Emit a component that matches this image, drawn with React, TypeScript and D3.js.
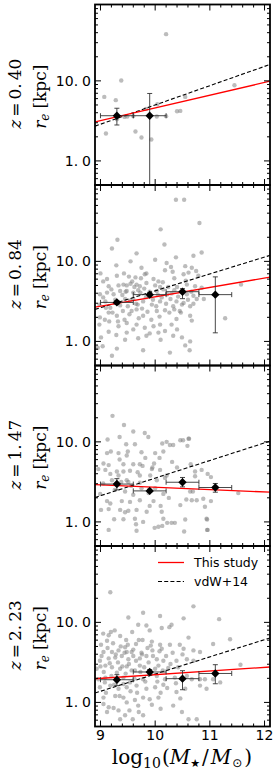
import React from "react";
import * as d3 from "d3";

const W = 279;
const H = 775;
const PLOT_LEFT = 95;
const PLOT_RIGHT = 270;
const PANEL_TOPS = [4.5, 185, 365.5, 546];
const PANEL_H = 180.5;
const X_DOMAIN: [number, number] = [8.9, 12.1];
const Y_DOMAIN: [number, number] = [0.5, 90];

const redshiftLabels = ["0.40", "0.84", "1.47", "2.23"];
const xTickLabels = ["9", "10", "11", "12"];
const yTickLabels = ["1.0", "10.0"];

// binned medians: log10(M*) centres, r_e (kpc) and error ranges
const binCenters = [[9.3, 9.9], [9.3, 9.9, 10.5, 11.1], [9.3, 9.9, 10.5, 11.1], [9.3, 9.9, 10.5, 11.1]];
const binHalfWidth = 0.3;
const medRe = [[3.67, 3.67], [3.07, 3.84, 4.18, 3.84], [2.97, 2.44, 3.13, 2.69], [1.92, 2.4, 1.98, 2.3]];
const medLo = [[2.81, 0.3], [2.9, 3.6, 3.42, 1.28], [2.51, 2.33, 2.74, 2.35], [1.62, 2.2, 1.44, 1.71]];
const medHi = [[4.55, 6.96], [3.25, 4.05, 4.56, 6.4], [3.47, 2.56, 3.59, 3.02], [2.22, 2.57, 2.49, 2.96]];

// fits: log10(r_e) = A + B (log M - 10)
const fitA = [0.662, 0.558, 0.434, 0.346];
const fitB = [0.159, 0.117, -0.03, 0.046];
const vdwA = [0.699, 0.632, 0.547, 0.354];
const vdwB = [0.241, 0.211, 0.22, 0.215];

// galaxies: [log10 M*, log10 r_e]
const gal040: [number, number][] = [
  [10.2, 1.584], [9.38, 1.005], [9.07, 0.8], [9.28, 0.759], [9.1, 0.343], [9.64, 0.368], [9.75, 0.293],
  [9.93, 0.268], [9.83, 0.65], [10.04, 0.709], [10.03, 0.555], [10.2, 0.559], [10.4, 0.621], [10.46, 0.625],
  [10.55, 0.8], [11.45, 0.946], [9.44, 0.55], [9.49, 0.555], [9.6, 0.56], [9.3, 0.52],
];
const gal084: [number, number][] = [
  [10.38, 1.77], [10.1, 1.4], [9.31, 1.27], [9.21, 1.16], [10.17, 1.21], [9.66, 1.1], [10.38, 1.05],
  [10.21, 0.98], [10.29, 0.93], [9.29, 0.95], [9.84, 0.85], [9.43, 0.85], [9.81, 0.84], [10.18, 0.89],
  [10.32, 0.87], [9.05, 0.75], [9.52, 0.81], [9.64, 0.8], [9.74, 0.79], [9.58, 0.75], [9.3, 0.82],
  [9.97, 0.78], [10.06, 0.75], [10.35, 0.79], [10.09, 0.68], [9.42, 0.71], [9.48, 0.7], [9.66, 0.71],
  [9.72, 0.69], [9.84, 0.73], [9.15, 0.69], [8.99, 0.59], [9.12, 0.61], [9.24, 0.59], [9.36, 0.63],
  [9.48, 0.63], [9.6, 0.61], [9.69, 0.64], [10.03, 0.63], [10.15, 0.65], [10.22, 0.59], [10.35, 0.64],
  [8.98, 0.46], [9.09, 0.5], [9.18, 0.42], [9.45, 0.53], [9.54, 0.51], [9.65, 0.47], [9.78, 0.5],
  [9.94, 0.46], [10.09, 0.5], [10.28, 0.53], [10.39, 0.5], [8.99, 0.3], [9.15, 0.36], [9.3, 0.32],
  [9.41, 0.38], [9.53, 0.34], [9.66, 0.4], [9.78, 0.32], [10.03, 0.38], [10.18, 0.39], [10.33, 0.44],
  [10.45, 0.38], [8.98, 0.21], [9.16, 0.25], [9.32, 0.25], [9.33, 0.19], [9.48, 0.23], [9.66, 0.21],
  [9.81, 0.17], [9.97, 0.19], [10.09, 0.21], [10.3, 0.21], [10.39, 0.28], [9.01, 0.05], [9.29, 0.08],
  [9.48, 0.11], [9.69, 0.04], [9.84, 0.07], [10.06, 0.11], [10.18, 0.13], [10.33, 0.07], [9.04, -0.06],
  [9.3, -0.09], [9.78, -0.11], [9.21, -0.18], [10.27, -0.14], [8.95, -0.08],
  [10.53, 1.77], [10.81, 1.48], [10.85, 1.11], [10.7, 1.07], [10.55, 0.94], [10.67, 0.92], [10.75, 0.88],
  [10.61, 0.86], [10.52, 0.84], [10.79, 0.82], [10.58, 0.71], [10.73, 0.69], [10.85, 0.67], [11.57, 0.71],
  [10.58, 0.59], [10.7, 0.57], [10.76, 0.53], [10.89, 0.53], [10.49, 0.46], [10.64, 0.44], [10.47, 0.36],
  [10.64, 0.32], [10.67, 0.26], [11.28, 0.29], [10.49, 0.05], [10.55, -0.05], [10.63, -0.11], [10.64, 0.0],
  [9.05, 0.55], [9.1, 0.42], [9.12, 0.78], [9.2, 0.65], [9.22, 0.36], [9.27, 0.52], [9.33, 0.7], [9.36, 0.45],
  [9.4, 0.58], [9.44, 0.27], [9.46, 0.62], [9.5, 0.44], [9.55, 0.72], [9.57, 0.38], [9.6, 0.53], [9.62, 0.68],
  [9.68, 0.46], [9.7, 0.29], [9.73, 0.61], [9.76, 0.41], [9.8, 0.66], [9.83, 0.55], [9.86, 0.37], [9.9, 0.62],
  [9.93, 0.27], [9.96, 0.52], [10.0, 0.7], [10.02, 0.44], [10.05, 0.58], [10.08, 0.31], [10.12, 0.55],
  [10.14, 0.74], [10.2, 0.47], [10.24, 0.68], [10.26, 0.36], [10.3, 0.6], [10.35, 0.4], [10.4, 0.68],
  [10.42, 0.56], [10.48, 0.62], [10.52, 0.48], [10.56, 0.76], [10.6, 0.52], [10.66, 0.62], [10.7, 0.47],
  [9.15, 0.12], [9.45, 0.02], [9.6, 0.15], [9.9, 0.1], [10.1, 0.02], [10.4, 0.15], [9.75, 0.92], [9.55, 1.0],
  [10.0, 1.02], [9.0, 0.85], [9.08, 0.27],
];
const gal147: [number, number][] = [
  [9.22, 1.325], [9.43, 1.21], [9.6, 1.13], [9.81, 1.11], [9.875, 1.06], [9.13, 1.03], [9.35, 1.06],
  [9.47, 0.97], [9.63, 0.97], [10.21, 1.0], [10.27, 0.96], [10.33, 0.96], [9.19, 0.88], [9.33, 0.86],
  [9.48, 0.83], [9.75, 0.87], [10.0, 0.86], [10.15, 0.88], [9.055, 0.73], [9.15, 0.71], [9.42, 0.72],
  [9.6, 0.72], [9.72, 0.72], [9.77, 0.7], [9.98, 0.73], [10.31, 0.75], [8.96, 0.66], [9.09, 0.65],
  [9.3, 0.63], [9.42, 0.63], [9.54, 0.64], [9.95, 0.68], [10.09, 0.65], [9.33, 0.58], [9.72, 0.58],
  [9.91, 0.58], [10.21, 0.58], [9.21, 0.52], [9.48, 0.52], [9.51, 0.5], [9.72, 0.49], [10.03, 0.52],
  [8.995, 0.35], [9.45, 0.38], [9.6, 0.34], [10.15, 0.35], [9.12, 0.26], [9.18, 0.23], [9.39, 0.26],
  [9.54, 0.25], [9.72, 0.27], [9.97, 0.26], [9.01, 0.15], [9.15, 0.16], [9.36, 0.15], [9.51, 0.14],
  [9.66, 0.15], [9.845, 0.126], [10.12, 0.126], [9.42, 0.034], [9.25, 0.034], [9.63, 0.04], [10.15, 0.04],
  [9.78, 0.0], [10.22, -0.012], [10.3, -0.012], [10.36, -0.012], [9.99, -0.074], [10.06, -0.06],
  [10.13, -0.05], [9.15, -0.1], [9.65, -0.03], [9.66, -0.11],
  [10.46, 1.02], [10.62, 1.04], [10.13, 0.98], [10.85, 0.65], [10.96, 0.6], [11.52, 0.36], [10.96, -0.1],
  [10.95, 0.03], [10.61, 1.04], [10.51, 1.02], [10.59, 0.95], [10.65, 0.72], [10.73, 0.63], [11.02, 0.56],
  [10.73, 0.57], [10.64, 0.38], [10.69, 0.38], [10.57, 0.28], [10.67, 0.27], [10.76, 0.27], [10.88, 0.29],
  [11.02, 0.26], [10.91, 0.19], [10.55, 0.03], [10.94, 0.04], [10.53, -0.12], [10.95, -0.1], [10.46, 0.21],
  [9.05, 0.48], [9.18, 0.6], [9.26, 0.4], [9.35, 0.78], [9.38, 0.5], [9.5, 0.88], [9.56, 0.45], [9.68, 0.62],
  [9.75, 0.42], [9.82, 0.8], [9.88, 0.36], [9.94, 0.66], [10.0, 0.42], [10.08, 0.8], [10.18, 0.55],
  [10.25, 0.3], [10.4, 0.68], [10.5, 0.5], [9.12, 0.86], [9.45, 0.12], [9.9, 0.2], [10.1, 0.2],
];
const gal223: [number, number][] = [
  [9.18, 1.376], [9.51, 1.06], [9.78, 1.12], [10.09, 1.08], [9.84, 0.96], [9.69, 0.97], [10.3, 0.97],
  [10.26, 0.94], [10.12, 0.93], [9.15, 0.84], [9.19, 0.88], [9.12, 0.77], [9.01, 0.72], [9.36, 0.83],
  [9.47, 0.78], [9.65, 0.73], [9.77, 0.78], [9.94, 0.76], [10.09, 0.72], [10.27, 0.72], [10.45, 0.72],
  [9.055, 0.63], [9.21, 0.63], [9.33, 0.65], [9.45, 0.69], [9.48, 0.63], [9.57, 0.63], [9.75, 0.62],
  [9.92, 0.71], [9.95, 0.65], [10.12, 0.67], [8.99, 0.52], [9.15, 0.55], [9.27, 0.56], [9.39, 0.58],
  [9.51, 0.54], [9.6, 0.58], [9.72, 0.55], [9.84, 0.58], [10.03, 0.54], [10.15, 0.52], [10.39, 0.52],
  [8.93, 0.42], [9.09, 0.46], [9.21, 0.44], [9.36, 0.42], [9.48, 0.45], [9.63, 0.4], [9.72, 0.46],
  [10.06, 0.46], [10.24, 0.43], [8.96, 0.29], [9.09, 0.31], [9.42, 0.31], [9.54, 0.25], [9.78, 0.29],
  [10.03, 0.33], [10.18, 0.29], [10.36, 0.31], [8.99, 0.19], [9.18, 0.21], [9.33, 0.17], [9.48, 0.19],
  [9.66, 0.21], [9.84, 0.17], [10.0, 0.19], [10.15, 0.22], [9.055, 0.06], [9.27, 0.08], [9.42, 0.06],
  [9.63, 0.03], [9.78, 0.06], [10.06, 0.06], [10.39, 0.13], [9.055, -0.02], [9.24, -0.07], [9.48, 0.0],
  [9.69, -0.04], [9.94, -0.03], [10.33, -0.04], [9.12, -0.12], [9.33, -0.1], [9.53, -0.1], [9.36, -0.21],
  [9.59, -0.21], [9.78, -0.16],
  [10.7, 1.2], [11.17, 1.04], [10.52, 1.05], [10.61, 0.81], [11.06, 0.73], [11.37, 0.79], [10.52, 0.67],
  [10.7, 0.65], [10.82, 0.63], [10.58, 0.54], [10.7, 0.52], [11.56, 0.47], [10.58, 0.33], [10.82, 0.29],
  [10.91, 0.29], [11.06, 0.29], [10.67, 0.29], [11.19, 0.25], [10.55, 0.17], [10.82, 0.21], [10.94, 0.17],
  [10.61, -0.21], [10.76, -0.21], [10.49, -0.12],
  [9.02, 0.58], [9.06, 0.38], [9.1, 0.12], [9.13, 0.68], [9.17, 0.49], [9.2, 0.33], [9.23, 0.74], [9.25, 0.22],
  [9.28, 0.6], [9.3, 0.37], [9.32, 0.5], [9.35, 0.08], [9.37, 0.7], [9.4, 0.45], [9.42, 0.23], [9.44, 0.62],
  [9.46, 0.36], [9.5, 0.72], [9.52, 0.48], [9.55, 0.14], [9.57, 0.4], [9.6, 0.66], [9.62, 0.3], [9.65, 0.52],
  [9.67, 0.12], [9.7, 0.78], [9.73, 0.38], [9.76, 0.6], [9.8, 0.44], [9.82, 0.26], [9.86, 0.68], [9.88, 0.5],
  [9.9, 0.04], [9.93, 0.36], [9.96, 0.58], [10.0, 0.42], [10.04, 0.26], [10.08, 0.64], [10.1, 0.12],
  [10.14, 0.4], [10.2, 0.58], [10.22, 0.18], [10.28, 0.48], [10.32, 0.62], [10.38, 0.24], [10.42, 0.44],
  [10.46, 0.05], [10.5, 0.6], [9.05, 0.86], [9.26, 0.9], [9.58, 0.88], [9.9, 0.9], [9.15, -0.06],
  [9.45, -0.16], [9.7, -0.12], [10.1, -0.08], [9.0, 0.45], [9.08, 0.25],
];
const galaxies = [gal040, gal084, gal147, gal223];

const x = d3.scaleLinear().domain(X_DOMAIN).range([PLOT_LEFT, PLOT_RIGHT]);
const MATH_FONT = "DejaVu Serif";

function Panel({ i }: { i: number }) {
  const top = PANEL_TOPS[i];
  const bottom = top + PANEL_H;
  const y = d3.scaleLog().domain(Y_DOMAIN).range([bottom, top]);
  const clipId = `clip${i}`;
  const line = d3
    .line<number>()
    .x((m) => x(m))
    .y((m) => y(Math.pow(10, fitA[i] + fitB[i] * (m - 10))));
  const vline = d3
    .line<number>()
    .x((m) => x(m))
    .y((m) => y(Math.pow(10, vdwA[i] + vdwB[i] * (m - 10))));
  const xs = X_DOMAIN;
  const xTicks = x.ticks(16);
  const yTicks = y.ticks();
  const isMajorX = (t: number) => Math.abs(t - Math.round(t)) < 1e-6;
  const isMajorY = (t: number) => Math.abs(Math.log10(t) - Math.round(Math.log10(t))) < 1e-6;
  const mid = top + PANEL_H / 2;
  const cap = 2.5;
  return (
    <g>
      <defs>
        <clipPath id={clipId}>
          <rect x={PLOT_LEFT} y={top} width={PLOT_RIGHT - PLOT_LEFT} height={PANEL_H} />
        </clipPath>
      </defs>
      <g clipPath={`url(#${clipId})`}>
        {galaxies[i].map(([m, lr], k) => (
          <circle key={k} cx={x(m)} cy={y(Math.pow(10, lr))} r={2.2} fill="#7a7a7a" fillOpacity={0.5} />
        ))}
        <path d={vline(xs) || ""} fill="none" stroke="#000" strokeWidth={1.1} strokeDasharray="4,2.2" />
        <path d={line(xs) || ""} fill="none" stroke="#ff0000" strokeWidth={1.3} />
        {binCenters[i].map((c, k) => {
          const cx = x(c);
          const cy = y(medRe[i][k]);
          const x0 = x(c - binHalfWidth);
          const x1 = x(c + binHalfWidth);
          const yl = y(medLo[i][k]);
          const yh = y(medHi[i][k]);
          return (
            <g key={k} stroke="#333" strokeWidth={0.9}>
              <line x1={x0} x2={x1} y1={cy} y2={cy} />
              <line x1={x0} x2={x0} y1={cy - cap} y2={cy + cap} />
              <line x1={x1} x2={x1} y1={cy - cap} y2={cy + cap} />
              <line x1={cx} x2={cx} y1={yl} y2={yh} />
              <line x1={cx - cap} x2={cx + cap} y1={yl} y2={yl} />
              <line x1={cx - cap} x2={cx + cap} y1={yh} y2={yh} />
              <path
                d={`M${cx},${cy - 4.2}L${cx + 4.2},${cy}L${cx},${cy + 4.2}L${cx - 4.2},${cy}Z`}
                fill="#000"
                stroke="none"
              />
            </g>
          );
        })}
      </g>
      <g stroke="#000" strokeWidth={1}>
        {xTicks.map((t, k) => {
          const len = isMajorX(t) ? 6 : 3;
          const px = x(t);
          return (
            <g key={k}>
              <line x1={px} x2={px} y1={bottom} y2={bottom - len} />
              <line x1={px} x2={px} y1={top} y2={top + len} />
            </g>
          );
        })}
        {yTicks.map((t, k) => {
          const len = isMajorY(t) ? 6 : 3;
          const py = y(t);
          return (
            <g key={k}>
              <line x1={PLOT_LEFT} x2={PLOT_LEFT + len} y1={py} y2={py} />
              <line x1={PLOT_RIGHT} x2={PLOT_RIGHT - len} y1={py} y2={py} />
            </g>
          );
        })}
      </g>
      <rect
        x={PLOT_LEFT}
        y={top}
        width={PLOT_RIGHT - PLOT_LEFT}
        height={PANEL_H}
        fill="none"
        stroke="#000"
        strokeWidth={1.8}
      />
      {[1, 10].map((t, k) => {
        const lab = yTickLabels[k];
        const head = lab.slice(0, lab.length - 1);
        const tail = lab.slice(lab.length - 1);
        return (
          <text
            key={k}
            x={91}
            y={y(t) + 5}
            textAnchor="end"
            fontFamily="DejaVu Sans"
            fontSize={14}
            fill="#000"
          >
            {head}
            <tspan dx={4}>{tail}</tspan>
          </text>
        );
      })}
      <text
        transform={`translate(20.5,${mid - 1}) rotate(-90)`}
        textAnchor="middle"
        fontFamily={MATH_FONT}
        fontSize={17}
        fill="#000"
      >
        <tspan fontStyle="italic">z</tspan>
        <tspan dx={3}>=</tspan>
        <tspan dx={3}>{redshiftLabels[i].slice(0, 2)}</tspan>
        <tspan dx={3}>{redshiftLabels[i].slice(2)}</tspan>
      </text>
      <text
        transform={`translate(46,${mid + 2}) rotate(-90)`}
        textAnchor="middle"
        fontFamily={MATH_FONT}
        fontSize={17}
        fill="#000"
      >
        <tspan fontStyle="italic">r</tspan>
        <tspan fontStyle="italic" fontSize={12} dy={3}>e</tspan>
        <tspan dy={-3} dx={5}>[kpc]</tspan>
      </text>
    </g>
  );
}

export default function App() {
  const bottom = PANEL_TOPS[3] + PANEL_H;
  const majors = x.ticks(4).filter((t) => Math.abs(t - Math.round(t)) < 1e-6);
  return (
    <svg width={W} height={H} style={{ position: "absolute", left: 0, top: 0 }}>
      <rect width={W} height={H} fill="#fff" />
      {PANEL_TOPS.map((_, i) => (
        <Panel key={i} i={i} />
      ))}
      {majors.map((t, k) => (
        <text
          key={k}
          x={x(t)}
          y={bottom + 13.5}
          textAnchor="middle"
          fontFamily="DejaVu Sans"
          fontSize={14}
          fill="#000"
        >
          {xTickLabels[k]}
        </text>
      ))}
      <text x={182} y={764} textAnchor="middle" fontFamily={MATH_FONT} fontSize={20} fill="#000">
        log
        <tspan fontSize={14} dy={4}>10</tspan>
        <tspan dy={-4} dx={1}>(</tspan>
        <tspan fontStyle="italic">M</tspan>
        <tspan fontSize={11} dy={3} fontFamily="DejaVu Sans">★</tspan>
        <tspan dy={-3} dx={2}>/</tspan>
        <tspan fontStyle="italic" dx={2}>M</tspan>
        <tspan fontSize={12} dy={3} dx={1} fontFamily="DejaVu Sans">⊙</tspan>
        <tspan dy={-3} dx={2}>)</tspan>
      </text>
      <line x1={158} x2={184} y1={562.5} y2={562.5} stroke="#ff0000" strokeWidth={1.3} />
      <text x={194} y={567} fontFamily="DejaVu Sans" fontSize={12.5} fill="#000">
        This study
      </text>
      <line x1={158} x2={184} y1={581.5} y2={581.5} stroke="#000" strokeWidth={1.1} strokeDasharray="4,2.2" />
      <text x={194} y={586} fontFamily="DejaVu Sans" fontSize={12.5} fill="#000">
        vdW+14
      </text>
    </svg>
  );
}
